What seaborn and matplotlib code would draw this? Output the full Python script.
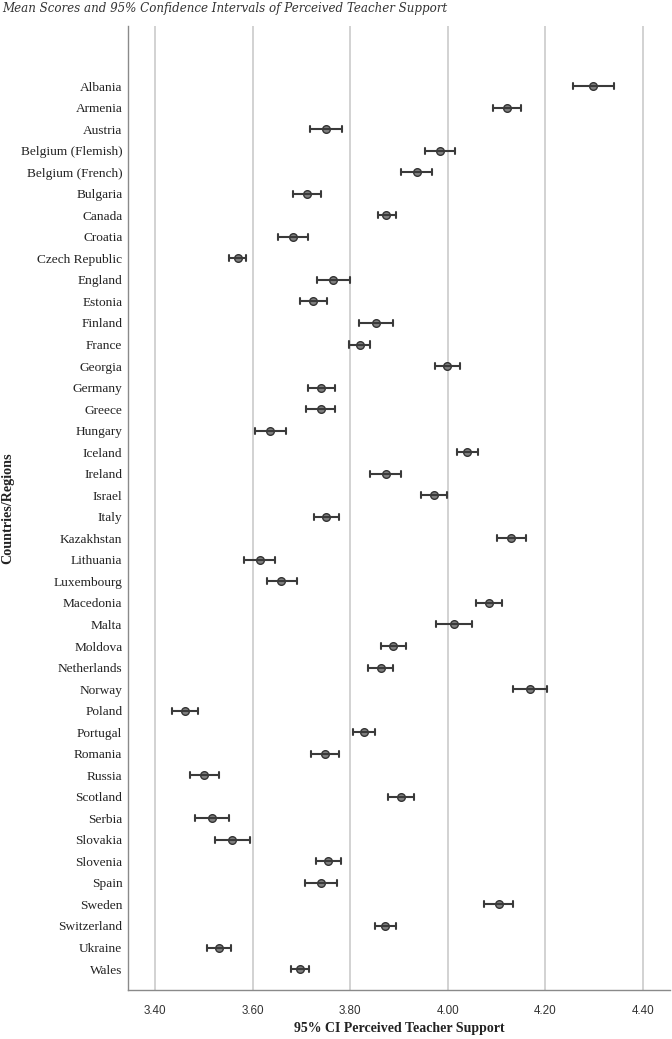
import numpy as np
import pandas as pd
import matplotlib
matplotlib.use("Agg")
import matplotlib.pyplot as plt
import seaborn as sns

countries = ["Albania", "Armenia", "Austria", "Belgium (Flemish)", "Belgium (French)",
             "Bulgaria", "Canada", "Croatia", "Czech Republic", "England", "Estonia",
             "Finland", "France", "Georgia", "Germany", "Greece", "Hungary", "Iceland",
             "Ireland", "Israel", "Italy", "Kazakhstan", "Lithuania", "Luxembourg",
             "Macedonia", "Malta", "Moldova", "Netherlands", "Norway", "Poland",
             "Portugal", "Romania", "Russia", "Scotland", "Serbia", "Slovakia",
             "Slovenia", "Spain", "Sweden", "Switzerland", "Ukraine", "Wales"]

means = [4.297, 4.121, 3.750, 3.984, 3.936, 3.711, 3.874, 3.683, 3.570, 3.765, 3.724,
         3.852, 3.819, 3.999, 3.740, 3.739, 3.636, 4.039, 3.873, 3.972, 3.751, 4.129,
         3.614, 3.659, 4.084, 4.012, 3.887, 3.862, 4.169, 3.461, 3.828, 3.748, 3.500,
         3.904, 3.516, 3.558, 3.754, 3.740, 4.104, 3.871, 3.531, 3.696]

ci_low = [4.256, 4.093, 3.718, 3.954, 3.904, 3.682, 3.856, 3.652, 3.552, 3.731, 3.696,
          3.818, 3.798, 3.973, 3.714, 3.710, 3.605, 4.019, 3.841, 3.945, 3.725, 4.100,
          3.583, 3.630, 4.057, 3.975, 3.862, 3.836, 4.133, 3.434, 3.806, 3.719, 3.471,
          3.878, 3.482, 3.523, 3.729, 3.708, 4.075, 3.850, 3.507, 3.679]

ci_high = [4.340, 4.150, 3.783, 4.014, 3.967, 3.740, 3.893, 3.714, 3.587, 3.800, 3.752,
           3.887, 3.840, 4.025, 3.769, 3.769, 3.668, 4.061, 3.905, 3.998, 3.777, 4.160,
           3.645, 3.690, 4.111, 4.050, 3.914, 3.887, 4.204, 3.488, 3.851, 3.777, 3.530,
           3.931, 3.551, 3.594, 3.780, 3.772, 4.133, 3.893, 3.556, 3.715]

x_ticks = [3.40, 3.60, 3.80, 4.00, 4.20, 4.40]
x_tick_labels = ["3.40", "3.60", "3.80", "4.00", "4.20", "4.40"]

# long-form table: each country contributes its lower bound, mean and upper bound;
# median gives the mean, the 100% percentile interval gives the CI bounds
rows = []
for c, lo, m, hi in zip(countries, ci_low, means, ci_high):
    for v in (lo, m, hi):
        rows.append({"Country": c, "Score": v})
df = pd.DataFrame(rows)

sns.set_theme(style="white")
fig = plt.figure(figsize=(6.72, 10.39), dpi=100)
ax = fig.add_axes([0.1905, 0.0472, 0.8065, 0.9278])

sns.pointplot(data=df, x="Score", y="Country", order=countries, orient="h",
              estimator="median", errorbar=("pi", 100), linestyle="none",
              color="#3a3a3a", marker="o", markersize=5.5,
              markerfacecolor="#7f7f7f", markeredgecolor="#333333", markeredgewidth=1.0,
              capsize=0.28, err_kws={"color": "#3a3a3a", "linewidth": 1.5},
              ax=ax, zorder=3)

ax.set_xlim(3.3444, 4.4554)
ax.set_ylim(len(countries) - 0.03, -2.79)

ax.set_xticks(x_ticks)
ax.set_xticklabels(x_tick_labels, fontfamily="Liberation Sans", fontsize=8.4, color="#333333")
ax.tick_params(axis="x", length=0, pad=11)
ax.tick_params(axis="y", length=0, pad=4)
for lab in ax.get_yticklabels():
    lab.set_fontfamily("Liberation Serif")
    lab.set_fontsize(9.6)
    lab.set_color("#222222")

ax.grid(axis="x", color="#cfcfcf", linewidth=1.3, zorder=0)
ax.grid(axis="y", visible=False)
ax.set_axisbelow(True)
for side in ("top", "right"):
    ax.spines[side].set_visible(False)
for side in ("left", "bottom"):
    ax.spines[side].set_color("#8a8a8a")
    ax.spines[side].set_linewidth(1.0)

ax.set_xlabel("95% CI Perceived Teacher Support", fontfamily="Liberation Serif",
              fontweight="bold", fontsize=10, color="#222222")
ax.xaxis.set_label_coords(0.5, -0.0395)
ax.xaxis.label.set_verticalalignment("center")
ax.set_ylabel("Countries/Regions", fontfamily="Liberation Serif",
              fontweight="bold", fontsize=10.2, color="#222222")
ax.yaxis.set_label_coords(-0.221, 0.5)
ax.yaxis.label.set_verticalalignment("center")

fig.text(0.003, 0.9915, "Mean Scores and 95% Confidence Intervals of Perceived Teacher Support",
         fontfamily="DejaVu Serif", fontstyle="italic", fontsize=8.6, color="#333333",
         ha="left", va="center")

fig.savefig("out.png", dpi=100)
